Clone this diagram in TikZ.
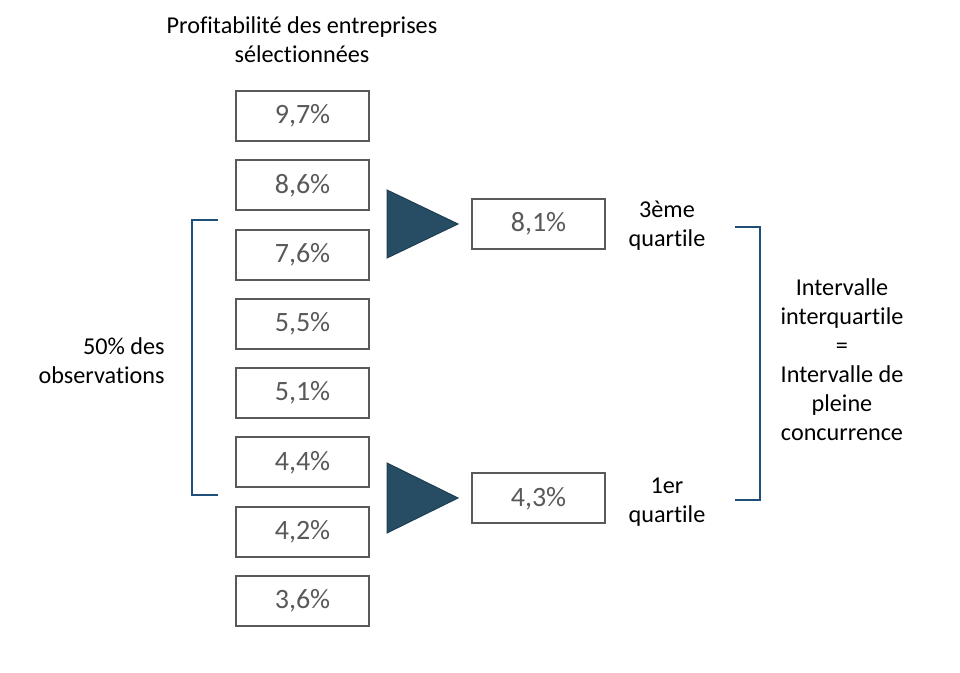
\documentclass[tikz,border=0pt]{standalone}
\usepackage{fontspec}
\setmainfont{Carlito}[Ligatures=NoCommon]
\usepackage{tikz}
\usetikzlibrary{arrows.meta, positioning}
\definecolor{boxgray}{HTML}{595959}
\definecolor{navy}{HTML}{264D63}
\definecolor{navyedge}{HTML}{1E3E52}
\definecolor{bracketblue}{HTML}{1F4E79}

\begin{document}
\begin{tikzpicture}[x=0.5pt,y=-0.5pt,
  valbox/.style={draw=boxgray, line width=1pt, minimum width=66.5pt, minimum height=25pt, inner sep=0pt, text=boxgray, font=\fontsize{14}{16}\selectfont},
  lbl/.style={align=center, font=\fontsize{12.1}{14.5}\selectfont},
  bracket/.style={draw=bracketblue, line width=0.6pt}]

\useasboundingbox (0,0) rectangle (960,673);

% Title
\node[lbl] (title) at (302,40) {Profitabilité des entreprises\\sélectionnées};

% Observed values
\foreach \v [count=\i] in {{9,7},{8,6},{7,6},{5,5},{5,1},{4,4},{4,2},{3,6}}
{
    \node[valbox] (obs\i) at (302.5,{116+69.3*(\i-1)}) {\v\%};
}

% Quartiles
\node[valbox] (q3) at (538.5,224) {8,1\%};
\node[valbox] (q1) at (538.5,498.5) {4,3\%};
\node[lbl] (q3lbl) at (667,226) {3ème\\quartile};
\node[lbl] (q1lbl) at (667,502) {1er\\quartile};

% Triangles
\filldraw[fill=navy, draw=navyedge, line width=0.5pt] (387,190) -- (458,224) -- (387,258) -- cycle;
\filldraw[fill=navy, draw=navyedge, line width=0.5pt] (387,463) -- (458,498) -- (387,533) -- cycle;

% Brackets
\coordinate (lt) at (218,220);
\coordinate (lb) at (218,495);
\draw[bracket] (lt) -- (192,220) -- (192,495) -- (lb);
\node[lbl, align=right, anchor=east, inner sep=0pt] (obslbl) at (165,361) {50\% des\\observations};

\coordinate (rt) at (735,227);
\coordinate (rb) at (735,500);
\draw[bracket] (rt) -- (760,227) -- (760,500) -- (rb);
\node[lbl] (iqr) at (842,360) {Intervalle\\interquartile\\=\\Intervalle de\\pleine\\concurrence};

\end{tikzpicture}
\end{document}
